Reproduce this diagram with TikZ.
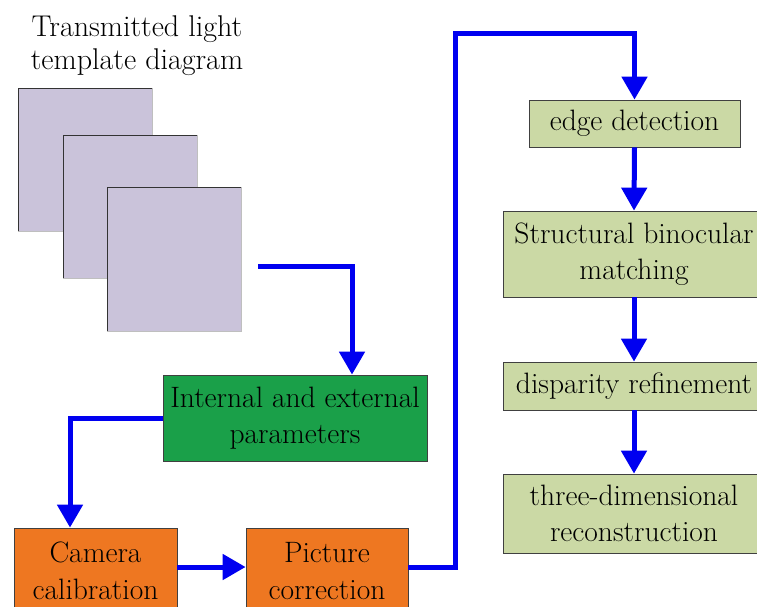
\documentclass[tikz,border=0pt]{standalone}
\usetikzlibrary{arrows.meta}
\definecolor{sqfill}{RGB}{202,195,218}
\definecolor{gbox}{RGB}{26,160,73}
\definecolor{obox}{RGB}{238,119,33}
\definecolor{lbox}{RGB}{203,217,165}
\definecolor{flowblue}{RGB}{0,0,240}
\tikzset{
  txt/.style={font=\fontsize{29.5}{36.5}\selectfont, align=center, inner sep=0pt},
  box/.style={txt, draw=black!75, line width=0.8pt, minimum width=#1},
  flow/.style={draw=flowblue, line width=5pt, -{Triangle[width=25pt,length=23pt]}},
  sq/.style={fill=sqfill, draw=black!25, line width=0.8pt}
}
\begin{document}
\begin{tikzpicture}[x=1pt,y=-1pt]
\useasboundingbox (0,0) rectangle (757,606);
\clip (0,0) rectangle (757,606);
\fill[white] (0,0) rectangle (757,606);
% title
\node[txt, font=\fontsize{30}{33}\selectfont] (title) at (137,46) {Transmitted light\\template diagram};
% squares
\path[sq] (18,88) rectangle (152,231);
\draw[black!80, line width=0.9pt] (18,231) -- (18,88) -- (152,88);
\path[sq] (63,135) rectangle (197,278);
\draw[black!80, line width=0.9pt] (63,278) -- (63,135) -- (197,135);
\path[sq] (107,187) rectangle (241,331);
\draw[black!80, line width=0.9pt] (107,331) -- (107,187) -- (241,187);
\node[inner sep=0pt, minimum width=134pt, minimum height=144pt] (sq3) at (174,259) {};
% boxes
\node[box=264pt, fill=gbox, minimum height=86pt] (green) at (295,418) {Internal and external\\parameters};
\node[box=163pt, fill=obox, minimum height=86pt] (cam) at (95.5,571) {Camera\\calibration};
\node[box=162pt, fill=obox, minimum height=86pt] (pic) at (327,571) {Picture\\correction};
\node[box=211pt, fill=lbox, minimum height=47pt] (edge) at (634.5,123.5) {edge detection};
\node[box=262pt, fill=lbox, minimum height=86pt] (sbm) at (634,254) {Structural binocular\\matching};
\node[box=262pt, fill=lbox, minimum height=48pt] (disp) at (634,386) {disparity refinement};
\node[box=262pt, fill=lbox, minimum height=79pt] (recon) at (634,513.5) {three-dimensional\\reconstruction};
% connectors
\coordinate (s) at (258,266);
\coordinate (c1) at (455,33);
\draw[flow] (s) -| ([xshift=57pt]green.north);
\draw[flow] (green.west) -| ([xshift=-25.5pt]cam.north);
\draw[flow] ([yshift=4pt]cam.east) -- ([yshift=4pt]pic.west);
\draw[flow] ([yshift=4pt]pic.east) -| (c1) -| (edge.north);
\draw[flow] (edge.south) -- (sbm.north);
\draw[flow] (sbm.south) -- (disp.north);
\draw[flow] (disp.south) -- (recon.north);
\end{tikzpicture}
\end{document}
